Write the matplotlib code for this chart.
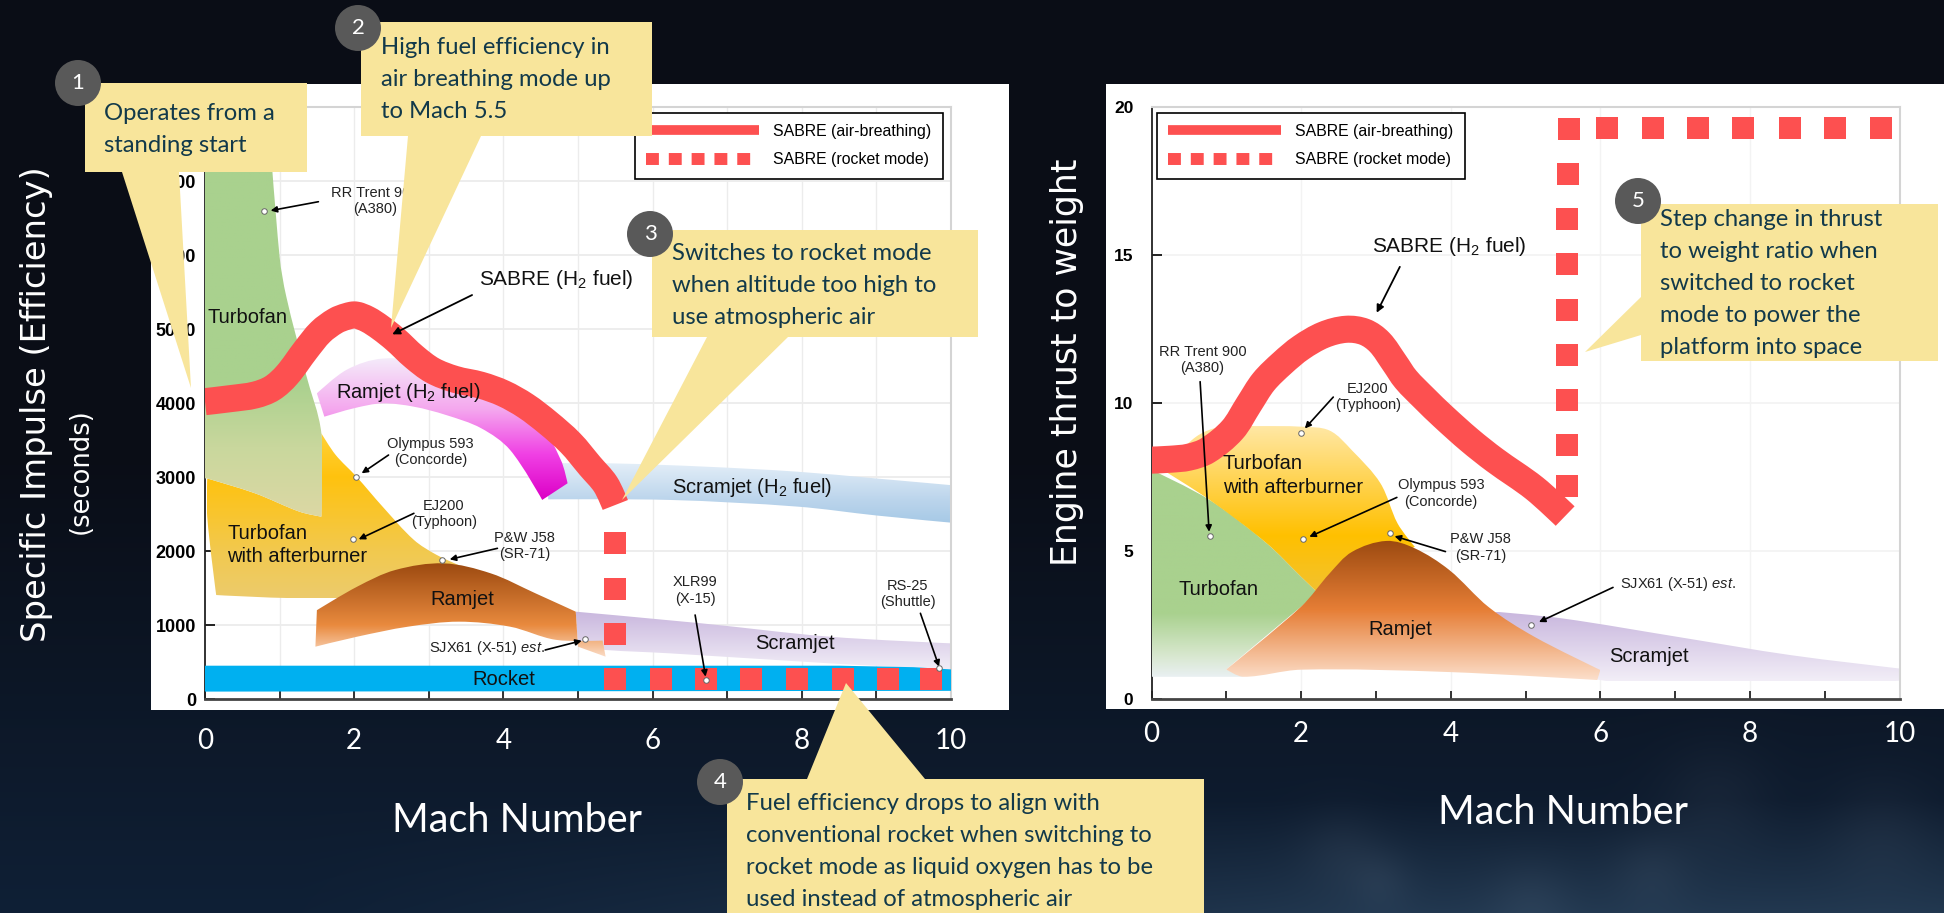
import numpy as np
import matplotlib
matplotlib.use("Agg")
import matplotlib.pyplot as plt
from matplotlib.colors import LinearSegmentedColormap
from matplotlib.lines import Line2D
from matplotlib.patches import Circle, PathPatch, Polygon, Rectangle
from matplotlib.path import Path

plt.rcParams["font.family"] = ["Liberation Sans", "DejaVu Sans"]
plt.rcParams["mathtext.fontset"] = "custom"
plt.rcParams["mathtext.rm"] = "Liberation Sans"
plt.rcParams["mathtext.it"] = "Liberation Sans:italic"
plt.rcParams["mathtext.default"] = "regular"

# ---- left chart: specific impulse
isp_sabre_x = [0, 0.35, 0.67, 0.9, 1.1, 1.35, 1.55, 1.75, 1.9, 2.02, 2.18, 2.35, 2.55, 2.8, 3.05,
               3.35, 3.7, 4.0, 4.3, 4.6, 4.9, 5.16, 5.37, 5.5]
isp_sabre_y = [4018, 4060, 4108, 4200, 4380, 4716, 4960, 5110, 5170, 5189, 5130, 5020, 4860, 4626, 4440,
               4320, 4240, 4130, 3960, 3730, 3460, 3150, 2900, 2622]
isp_rocket_x = [5.49, 5.49, 5.49, 5.49, 6.11, 6.72, 7.32, 7.94, 8.55, 9.16, 9.73]
isp_rocket_y = [2104, 1491, 883, 275, 275, 275, 275, 275, 275, 275, 275]

isp_green_x = [0, 0.84, 1.0, 1.09, 1.35, 1.56, 1.56, 1.27, 0.67, 0.03, 0]
isp_green_y = [7985, 7985, 5977, 5437, 4400, 3590, 2464, 2530, 2780, 2980, 2980]
isp_after_x = [0.03, 0.67, 1.27, 1.56, 1.56, 1.75, 2.03, 2.38, 2.8, 3.1, 3.4, 2.6, 1.52, 0.15, 0.03]
isp_after_y = [2980, 2780, 2530, 2464, 3590, 3300, 3005, 2600, 2150, 1950, 1810, 1450, 1360, 1405, 2460]
isp_ramh2_x = [1.5, 1.9, 2.38, 3.06, 3.8, 4.43, 4.77, 4.86, 4.52, 4.09, 3.7, 3.23, 2.8, 2.38, 2.0, 1.6]
isp_ramh2_y = [4130, 4450, 4600, 4536, 4240, 3815, 3230, 2915, 2690, 3365, 3660, 3838, 3950, 3995, 3930, 3815]
isp_scrh2_x = [4.6, 5.46, 6.7, 7.94, 9.0, 10, 10, 9.0, 7.94, 6.23, 4.6]
isp_scrh2_y = [3184, 3184, 3140, 3072, 2980, 2890, 2383, 2480, 2600, 2690, 2698]
isp_ram_x = [1.5, 2.04, 2.55, 3.2, 3.83, 4.43, 4.97, 5.0, 5.37, 5.33, 4.7, 4.09, 3.4, 2.72, 2.04, 1.48]
isp_ram_y = [1200, 1518, 1743, 1833, 1698, 1428, 1180, 707, 572, 790, 800, 977, 1045, 977, 842, 707]
isp_scr_x = [4.97, 6.66, 8.37, 10, 10, 8.37, 6.23, 5.37, 5.0]
isp_scr_y = [1180, 1022, 842, 752, 392, 482, 617, 662, 707]
isp_rkt_x = [0, 5, 8.5, 9.5, 10, 10, 0]
isp_rkt_y = [450, 450, 450, 430, 400, 110, 100]

isp_engine_x = [0.79, 2.02, 1.99, 3.18, 5.09, 6.72, 9.84]
isp_engine_y = [6595, 3005, 2158, 1878, 806, 252, 414]

# ---- right chart: thrust to weight
tw_sabre_x = [0, 0.25, 0.5, 0.75, 1.08, 1.3, 1.5, 1.75, 2.0, 2.3, 2.6, 2.85, 3.05, 3.25, 3.4, 3.65, 3.9, 4.25,
              4.59, 5.12, 5.53]
tw_sabre_y = [8.07, 8.1, 8.17, 8.4, 9.09, 9.95, 10.72, 11.35, 11.87, 12.3, 12.49, 12.4, 12.05, 11.35, 10.8, 10.15,
              9.54, 8.75, 8.07, 7.12, 6.18]
tw_rocket_x = [5.55, 5.55, 5.55, 5.55, 5.55, 5.56, 5.56, 5.57, 5.58, 6.09, 6.7, 7.31, 7.91, 8.53, 9.14, 9.75]
tw_rocket_y = [7.2, 8.58, 10.1, 11.63, 13.15, 14.68, 16.2, 17.72, 19.26, 19.3, 19.3, 19.3, 19.3, 19.3, 19.3, 19.3]

tw_green_x = [0, 0.78, 1.54, 2.0, 2.23, 2.0, 1.0, 1.23, 0]
tw_green_y = [7.74, 6.72, 5.26, 4.13, 3.57, 3.12, 1.0, 0.75, 0.75]
tw_after_x = [0.59, 0.93, 1.4, 2.0, 2.38, 2.68, 3.06, 3.29, 3.52, 2.23, 2.0, 1.54, 0.78, 0.15]
tw_after_y = [8.85, 9.2, 9.22, 9.2, 9.07, 8.4, 7.29, 5.93, 5.14, 3.57, 4.13, 5.26, 6.72, 7.74]
tw_ram_x = [3.14, 2.68, 2.38, 2.0, 1.0, 1.23, 2.0, 3.98, 5.96, 6.0, 5.12, 4.51, 3.98, 3.52]
tw_ram_y = [5.34, 4.97, 4.24, 3.12, 1.0, 0.75, 0.99, 0.91, 0.64, 0.98, 2.1, 3.1, 4.36, 5.09]
tw_scr_x = [4.59, 5.5, 7.03, 8.55, 10, 10, 6.0]
tw_scr_y = [2.95, 2.72, 2.1, 1.48, 1.03, 0.62, 0.64]

tw_engine_x = [0.785, 2.0, 2.02, 3.19, 5.08]
tw_engine_y = [5.49, 9.0, 5.4, 5.6, 2.5]

x_ticks = list(range(11))
x_labels = ["0", "", "2", "", "4", "", "6", "", "8", "", "10"]
isp_ticks = [0, 1000, 2000, 3000, 4000, 5000, 6000, 7000, 8000]
isp_tick_labels = ["0", "1000", "2000", "3000", "4000", "5000", "6000", "7000", ""]
tw_ticks = [0, 5, 10, 15, 20]
tw_tick_labels = ["0", "5", "10", "15", "20"]
legend_labels = ["SABRE (air-breathing)", "SABRE (rocket mode)"]

RED = "#fd5050"
CALLOUT = "#f8e59b"
CALL_TEXT = "#12394a"
SLIDE_FONT = ["Lato", "DejaVu Sans"]

W, H = 1944, 913
fig = plt.figure(figsize=(W / 100, H / 100), dpi=100)


def px_axes(left, top, right, bottom):
    return fig.add_axes([left / W, 1 - bottom / H, (right - left) / W, (bottom - top) / H])


def curve(ax, xs, ys, closed=False):
    # bezier through the read points; sharp bends are kept as corners
    x0, x1 = ax.get_xlim()
    y0, y1 = ax.get_ylim()
    bb = ax.get_position()
    sx = bb.width * W / (x1 - x0)
    sy = bb.height * H / (y1 - y0)
    pts = np.column_stack([xs, ys]).astype(float)
    pix = pts * [sx, sy]
    n = len(pts)
    handles = np.zeros((n, 2))
    for i in range(n):
        if not closed and i in (0, n - 1):
            continue
        a, b = pix[i] - pix[i - 1], pix[(i + 1) % n] - pix[i]
        cos = a @ b / (np.linalg.norm(a) * np.linalg.norm(b))
        if cos > 0.7:
            handles[i] = (a + b) / np.linalg.norm(a + b)
    verts = [pts[0]]
    codes = [Path.MOVETO]
    for i in range(n if closed else n - 1):
        j = (i + 1) % n
        seg = np.linalg.norm(pix[j] - pix[i])
        verts += [pts[i] + handles[i] * seg / 3 / [sx, sy], pts[j] - handles[j] * seg / 3 / [sx, sy], pts[j]]
        codes += [Path.CURVE4] * 3
    return Path(verts, codes)


def grad_fill(ax, xs, ys, stops, zorder):
    # vertical gradient clipped to the outline; stops are (value, colour), top first
    top, bottom = stops[0][0], stops[-1][0]
    cmap = LinearSegmentedColormap.from_list(
        "g", [((top - v) / (top - bottom), c) for v, c in stops])
    patch = PathPatch(curve(ax, xs, ys, closed=True), fc="none", ec="none", transform=ax.transData)
    ax.add_patch(patch)
    im = ax.imshow(np.linspace(0, 1, 256)[:, None], cmap=cmap, vmin=0, vmax=1, aspect="auto",
                   extent=[min(xs), max(xs), bottom, top], zorder=zorder)
    im.set_clip_path(patch)
    ax.set_xlim(0, 10)


def thick_line(ax, xs, ys):
    ax.add_patch(PathPatch(curve(ax, xs, ys), fc="none", ec=RED, lw=19.5, capstyle="butt",
                           joinstyle="round", zorder=6))


def note(ax, label, text_xy, start, tip, ha="center"):
    ax.text(text_xy[0], text_xy[1], label, fontsize=10.5, ha=ha, va="center", color="#222222",
            linespacing=1.25, zorder=8)
    ax.annotate("", xy=tip, xytext=start, zorder=8,
                arrowprops=dict(arrowstyle="-|>", color="black", lw=1.2, mutation_scale=9,
                                shrinkA=0, shrinkB=0))


def setup_axes(ax, ticks, tick_labels, xgrid, ygrid, grid_color, pad_x, pad_y, y_size):
    ax.patch.set_alpha(0)
    ax.set_xticks(x_ticks, x_labels)
    ax.set_yticks(ticks, tick_labels)
    ax.tick_params(axis="x", direction="in", length=6, width=1.3, color="#222222", pad=pad_x,
                   labelcolor="white", labelsize=20)
    ax.tick_params(axis="y", direction="in", length=7, width=1.3, color="#111111", pad=pad_y,
                   labelsize=y_size)
    for lab in ax.get_xticklabels():
        lab.set_family(SLIDE_FONT)
    for lab in ax.get_yticklabels():
        lab.set_fontweight("bold")
    for v in xgrid:
        ax.axvline(v, color=grid_color, lw=1, zorder=1)
    for v in ygrid:
        ax.axhline(v, color=grid_color, lw=1.3, zorder=1)
    ax.spines["top"].set_color("#d4d4d4")
    ax.spines["right"].set_color("#d4d4d4")
    ax.spines["top"].set_linewidth(1.5)
    ax.spines["right"].set_linewidth(1.5)
    ax.spines["left"].set_color("#222222")
    ax.spines["bottom"].set_color("#444444")
    ax.spines["left"].set_linewidth(1.3)
    ax.spines["bottom"].set_linewidth(2)


def add_legend(ax, loc, anchor):
    handles = [
        Line2D([], [], color=RED, lw=7, solid_capstyle="butt"),
        Line2D([], [], color=RED, lw=8.6, ls=(0, (1.08, 0.83)), dash_capstyle="butt"),
    ]
    leg = ax.legend(handles, legend_labels, loc=loc, bbox_to_anchor=anchor, borderaxespad=0, fontsize=11.4,
                    handlelength=7.15, handletextpad=0.9, labelspacing=0.85, borderpad=0.7,
                    fancybox=False, framealpha=1, edgecolor="black")
    leg.get_frame().set_linewidth(1.2)
    leg.set_zorder(9)


# background: dark navy, lighter towards the bottom right, with a few soft glows
bg = fig.add_axes([0, 0, 1, 1], zorder=0)
yy, xx = np.mgrid[0:H, 0:W]
dark = np.array([10, 13, 22], float)
mid = np.array([15, 32, 54], float)
light = np.array([34, 56, 80], float)
low = np.clip((yy - 450) / 463, 0, 1)[..., None]
side = np.clip((xx - 300) / 1100, 0, 1)[..., None]
deep = np.clip((yy - 800) / 113, 0, 1)[..., None]
img = dark + (mid - dark) * low + (light - mid) * side * deep
for gx, gy, gs in [(1380, 880, 22), (1650, 870, 28), (1715, 800, 40), (1530, 900, 30), (1340, 850, 30), (1880, 830, 40)]:
    img += 9 * np.exp(-((xx - gx) ** 2 + (yy - gy) ** 2) / (2 * gs ** 2))[..., None]
bg.imshow(np.clip(img, 0, 255).astype(np.uint8), aspect="auto", extent=[0, W, H, 0], zorder=0)
bg.set_xlim(0, W)
bg.set_ylim(H, 0)
bg.axis("off")
bg.add_patch(Rectangle((151, 84), 858, 626, fc="white", ec="none", zorder=1))
bg.add_patch(Rectangle((1106, 84), 838, 625, fc="white", ec="none", zorder=1))

# left chart
ax1 = px_axes(205, 107, 951, 699)
ax1.set_zorder(1)
ax1.set_xlim(0, 10)
ax1.set_ylim(0, 8000)
grad_fill(ax1, isp_scrh2_x, isp_scrh2_y, [(3184, "#e3eef8"), (2700, "#bcd5ec"), (2383, "#a6c9e6")], 2)
grad_fill(ax1, isp_after_x, isp_after_y, [(3600, "#ffd23a"), (3000, "#ffc20e"), (2000, "#f2c94e"), (1360, "#eccb6c")], 3)
grad_fill(ax1, isp_green_x, isp_green_y, [(7985, "#a9d18e"), (4300, "#a9d18e"), (3400, "#c9d79d"), (2464, "#dcd8a4")], 4)
grad_fill(ax1, isp_ramh2_x, isp_ramh2_y, [(4600, "#f5ebfa"), (3900, "#f4a6ee"), (3300, "#f040e4"), (2690, "#dc00c6")], 3)
grad_fill(ax1, isp_scr_x, isp_scr_y, [(1180, "#c9b7de"), (392, "#f2eef7")], 2)
grad_fill(ax1, isp_ram_x, isp_ram_y, [(1833, "#9c4a10"), (1000, "#e98a3e"), (572, "#fbdcc6")], 4)
ax1.fill(isp_rkt_x, isp_rkt_y, color="#00b0f0", lw=0, zorder=3)
ax1.set_ylim(0, 8000)
setup_axes(ax1, isp_ticks, isp_tick_labels, range(1, 10), range(1000, 8000, 1000), "#ececec", 21, 6.5, 13)
thick_line(ax1, isp_sabre_x, isp_sabre_y)
ax1.plot(isp_rocket_x, isp_rocket_y, ls="none", marker="s", ms=16, color=RED, mew=0, zorder=6)
ax1.plot(isp_engine_x, isp_engine_y, ls="none", marker="o", ms=4, mfc="white", mec="#666666", mew=0.7, zorder=9)
add_legend(ax1, "upper right", (0.989, 0.99))

for label, xy, ha in [
    ("Turbofan", (0.03, 5158), "left"),
    ("Turbofan\nwith afterburner", (0.3, 2081), "left"),
    ("Ramjet", (3.45, 1351), "center"),
    ("Scramjet", (7.91, 752), "center"),
    ("Rocket", (4.0, 266), "center"),
]:
    ax1.text(xy[0], xy[1], label, fontsize=14.5, ha=ha, va="center", color="#111111", linespacing=1.3, zorder=7)
ax1.text(2.72, 4140, "Ramjet (H$_2$ fuel)", fontsize=14.5, ha="center", va="center", color="#111111", zorder=7)
ax1.text(7.34, 2860, "Scramjet (H$_2$ fuel)", fontsize=14.5, ha="center", va="center", color="#111111", zorder=7)
ax1.text(4.71, 5671, "SABRE (H$_2$ fuel)", fontsize=15, ha="center", va="center", color="#111111", zorder=7)
ax1.annotate("", xy=(2.51, 4928), xytext=(3.58, 5459), zorder=8,
             arrowprops=dict(arrowstyle="-|>", color="black", lw=1.3, mutation_scale=11, shrinkA=0, shrinkB=0))

note(ax1, "RR Trent 900\n(A380)", (2.28, 6730), (1.52, 6720), (0.88, 6600))
note(ax1, "Olympus 593\n(Concorde)", (3.02, 3337), (2.46, 3297), (2.1, 3050))
note(ax1, "EJ200\n(Typhoon)", (3.2, 2500), (2.8, 2509), (2.06, 2158))
note(ax1, "P&W J58\n(SR-71)", (4.28, 2068), (3.92, 2036), (3.28, 1887))
note(ax1, "SJX61 (X-51) $\\mathit{est.}$", (4.56, 685), (4.56, 662), (5.05, 788), ha="right")
note(ax1, "XLR99\n(X-15)", (6.57, 1464), (6.57, 1135), (6.71, 302))
note(ax1, "RS-25\n(Shuttle)", (9.42, 1419), (9.59, 1158), (9.84, 437))

ax1.set_xlabel("Mach Number", fontsize=28.5, color="white", family=SLIDE_FONT)
ax1.xaxis.set_label_coords((517 - 205) / 746, (699 - 821) / 592)
ax1.xaxis.label.set_va("center")
ax1.set_ylabel("Specific Impulse (Efficiency)", fontsize=24.3, color="white", family=["DejaVu Sans"])
ax1.yaxis.set_label_coords((37 - 205) / 746, (699 - 404) / 592)
ax1.yaxis.label.set_va("center")

# right chart
ax2 = px_axes(1151.5, 107, 1899.5, 699)
ax2.set_zorder(1)
ax2.set_xlim(0, 10)
ax2.set_ylim(0, 20)
grad_fill(ax2, tw_scr_x, tw_scr_y, [(2.95, "#c9b7de"), (0.62, "#f2eef7")], 2)
grad_fill(ax2, tw_green_x, tw_green_y, [(7.74, "#a9d18e"), (2.9, "#a9d18e"), (1.5, "#d7e7cd"), (0.75, "#e9f0f2")], 3)
grad_fill(ax2, tw_after_x, tw_after_y, [(9.22, "#ffe8a6"), (7.5, "#ffd558"), (5.5, "#ffc000"), (3.57, "#f2c230")], 3)
grad_fill(ax2, tw_ram_x, tw_ram_y, [(5.34, "#9c4a10"), (3.0, "#e67e36"), (0.64, "#fcdfcb")], 4)
ax2.set_ylim(0, 20)
setup_axes(ax2, tw_ticks, tw_tick_labels, [2, 4, 6, 8], [5, 10, 15], "#f3f3f3", 15.5, 13, 12.5)
thick_line(ax2, tw_sabre_x, tw_sabre_y)
ax2.plot(tw_rocket_x, tw_rocket_y, ls="none", marker="s", ms=16.5, color=RED, mew=0, zorder=6)
ax2.plot(tw_engine_x, tw_engine_y, ls="none", marker="o", ms=4, mfc="white", mec="#666666", mew=0.7, zorder=9)
add_legend(ax2, "upper left", (0.007, 0.99))

for label, xy, ha in [
    ("Turbofan\nwith afterburner", (0.95, 7.55), "left"),
    ("Turbofan", (0.9, 3.7), "center"),
    ("Ramjet", (3.32, 2.36), "center"),
    ("Scramjet", (6.65, 1.45), "center"),
]:
    ax2.text(xy[0], xy[1], label, fontsize=14.5, ha=ha, va="center", color="#111111", linespacing=1.3, zorder=7)
ax2.text(3.98, 15.3, "SABRE (H$_2$ fuel)", fontsize=15, ha="center", va="center", color="#111111", zorder=7)
ax2.annotate("", xy=(3.01, 13.05), xytext=(3.32, 14.6), zorder=8,
             arrowprops=dict(arrowstyle="-|>", color="black", lw=1.3, mutation_scale=11, shrinkA=0, shrinkB=0))

note(ax2, "RR Trent 900\n(A380)", (0.68, 11.45), (0.65, 10.72), (0.77, 5.65))
note(ax2, "EJ200\n(Typhoon)", (2.89, 10.2), (2.43, 10.2), (2.05, 9.14))
note(ax2, "Olympus 593\n(Concorde)", (3.87, 6.95), (3.28, 6.81), (2.11, 5.48))
note(ax2, "P&W J58\n(SR-71)", (4.4, 5.12), (3.93, 4.98), (3.25, 5.5))
note(ax2, "SJX61 (X-51) $\\mathit{est.}$", (6.27, 3.88), (6.17, 3.77), (5.18, 2.6), ha="left")

ax2.set_xlabel("Mach Number", fontsize=28.5, color="white", family=SLIDE_FONT)
ax2.xaxis.set_label_coords((1563 - 1151.5) / 748, (699 - 813) / 592)
ax2.xaxis.label.set_va("center")
ax2.set_ylabel("Engine thrust to weight", fontsize=25, color="white", family=["DejaVu Sans"])
ax2.yaxis.set_label_coords((1067 - 1151.5) / 748, (699 - 362) / 592)
ax2.yaxis.label.set_va("center")

# slide callouts on top, in pixels
top = fig.add_axes([0, 0, 1, 1], zorder=5)
top.patch.set_alpha(0)
top.set_xlim(0, W)
top.set_ylim(H, 0)
top.axis("off")

callouts = [
    ((85, 83, 222, 89), [(122, 172), (179, 172), (191, 388)], (78, 83), "1", (104, [113, 146]),
     ["Operates from a", "standing start"]),
    ((361, 22, 291, 114), [(408, 136), (481, 136), (391, 328)], (358, 28), "2", (381, [48, 80, 112]),
     ["High fuel efficiency in", "air breathing mode up", "to Mach 5.5"]),
    ((652, 230, 326, 107), [(707, 337), (788, 337), (622, 500)], (650, 234), "3", (672, [253, 285, 318]),
     ["Switches to rocket mode", "when altitude too high to", "use atmospheric air"]),
    ((727, 779, 477, 134), [(807, 779), (925, 779), (846, 683)], (720, 782), "4", (746, [804, 836, 868, 900]),
     ["Fuel efficiency drops to align with", "conventional rocket when switching to",
      "rocket mode as liquid oxygen has to be", "used instead of atmospheric air"]),
    ((1641, 204, 297, 157), [(1641, 297), (1641, 335), (1585, 352)], (1638, 201), "5",
     (1660, [220, 252, 284, 316, 348]),
     ["Step change in thrust", "to weight ratio when", "switched to rocket", "mode to power the", "platform into space"]),
]
for box, pointer, centre, num, (tx, tys), lines in callouts:
    top.add_patch(Polygon(pointer, closed=True, fc=CALLOUT, ec="none", zorder=2))
    top.add_patch(Rectangle((box[0], box[1]), box[2], box[3], fc=CALLOUT, ec="none", zorder=2))
    top.add_patch(Circle(centre, 23, fc="#595959", ec="none", zorder=3))
    top.text(centre[0], centre[1], num, color="white", fontsize=16, ha="center", va="center", family=SLIDE_FONT, zorder=4)
    for ty, line in zip(tys, lines):
        top.text(tx, ty, line, color=CALL_TEXT, fontsize=17.2, ha="left", va="center", family=SLIDE_FONT, zorder=4)

top.text(81, 471, "(seconds)", color="white", fontsize=18.5, rotation=90, ha="center", va="center", family=["DejaVu Sans"])

fig.savefig("out.png", dpi=100)
plt.close(fig)
